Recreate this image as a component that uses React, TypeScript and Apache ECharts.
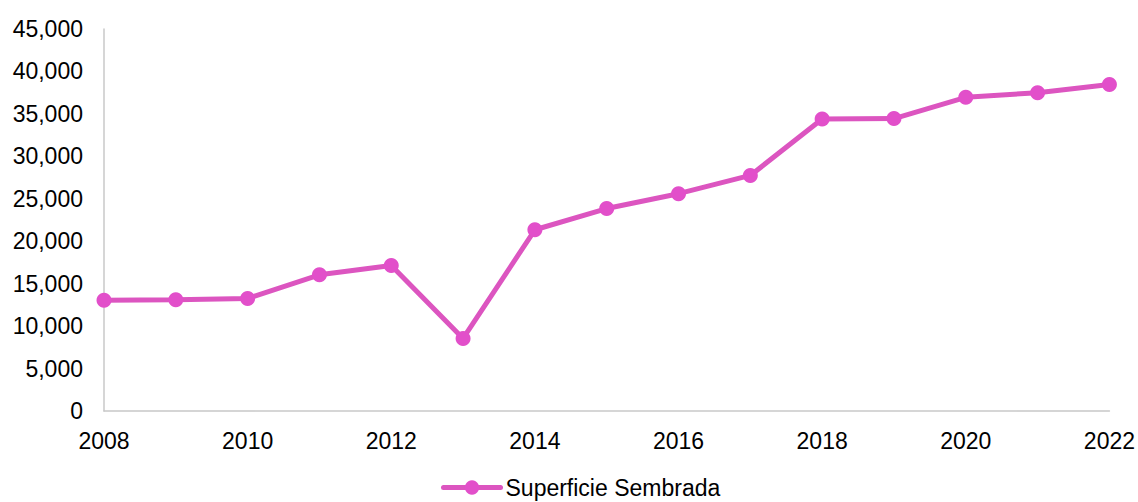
import React, { useEffect, useRef } from "react";
import * as echarts from "echarts";

const years = ["2008","2009","2010","2011","2012","2013","2014","2015","2016","2017","2018","2019","2020","2021","2022"];
const superficie = [13050, 13100, 13250, 16050, 17150, 8550, 21350, 23850, 25600, 27750, 34400, 34450, 36950, 37500, 38450];
const seriesName = "Superficie Sembrada";

export default function App() {
  const ref = useRef<HTMLDivElement>(null);
  useEffect(() => {
    if (!ref.current) return;
    const chart = echarts.init(ref.current, null, { renderer: "svg" });
    const font = "'Liberation Sans', Arial, sans-serif";
    chart.setOption({
      animation: false,
      backgroundColor: "#ffffff",
      textStyle: { fontFamily: font },
      grid: { left: 104, right: 28, top: 29, bottom: 91, containLabel: false },
      legend: {
        top: 476,
        left: 441,
        padding: 0,
        itemWidth: 57,
        itemHeight: 18,
        itemGap: 10,
        lineStyle: { width: 5, cap: "round" },
        textStyle: { fontSize: 23, color: "#000", fontFamily: font },
        data: [seriesName],
      },
      xAxis: {
        type: "category",
        boundaryGap: false,
        data: years,
        axisLine: { show: true, lineStyle: { color: "#c8c8c8", width: 1.5 } },
        axisTick: { show: false },
        axisLabel: { interval: 1, fontSize: 23, color: "#000", margin: 18, fontFamily: font },
        splitLine: { show: false },
      },
      yAxis: {
        type: "value",
        min: 0,
        max: 45000,
        interval: 5000,
        axisLine: { show: true, lineStyle: { color: "#c8c8c8", width: 1.5 } },
        axisTick: { show: false },
        splitLine: { show: false },
        axisLabel: {
          fontSize: 23,
          color: "#000",
          margin: 21,
          fontFamily: font,
          formatter: (v: number) => v.toLocaleString("en-US"),
        },
      },
      series: [
        {
          name: seriesName,
          type: "line",
          data: superficie,
          symbol: "circle",
          symbolSize: 15,
          lineStyle: { color: "#dc55c0", width: 5 },
          itemStyle: { color: "#e24fca" },
        },
      ],
    });
    return () => chart.dispose();
  }, []);
  return (
    <div
      ref={ref}
      style={{ position: "fixed", left: 0, top: 0, width: 1138, height: 502 }}
    />
  );
}
